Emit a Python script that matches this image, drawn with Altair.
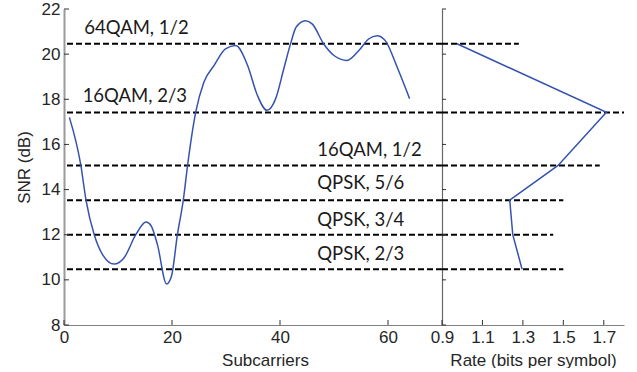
import altair as alt
import pandas as pd

# ---- data ----
sub_idx = [1, 3.1, 4.1, 5.6, 7.2, 9.3, 11.1, 13.3, 15.2, 16.1, 17.3, 19.0, 19.9,
           21.0, 22.1, 22.9, 24.4, 25.9, 27.8, 29.9, 31.8, 34.0, 35.8, 37.6, 39.2,
           40.7, 42.0, 43.0, 44.7, 46.0, 48.1, 50.0, 52.4, 54.6, 56.4, 58.0, 59.5,
           61.7, 64.0]
sub_snr = [17.2, 15.1, 13.5, 12.0, 11.1, 10.7, 10.97, 12.0, 12.56, 12.41, 11.56,
           9.82, 10.16, 12.0, 13.55, 15.1, 17.44, 18.76, 19.5, 20.23, 20.38, 19.5,
           18.18, 17.51, 18.03, 19.35, 20.5, 21.2, 21.48, 21.33, 20.45, 19.94,
           19.72, 20.16, 20.67, 20.82, 20.6, 19.42, 18.03]

mcs_labels = ["64QAM, 1/2", "16QAM, 2/3", "16QAM, 1/2", "QPSK, 5/6", "QPSK, 3/4", "QPSK, 2/3"]
mcs_snr = [20.46, 17.42, 15.07, 13.53, 12.0, 10.47]
mcs_rate = [0.974, 1.713, 1.474, 1.235, 1.25, 1.296]
mcs_line_start = [0.9, 0.9, 0.9, 0.9, 0.9, 0.9]
mcs_line_end = [1.28, 1.80, 1.68, 1.50, 1.45, 1.50]
label_x = [3.75, 3.45, 46.9, 46.9, 46.9, 46.9]
label_y = [21.15, 18.15, 15.77, 14.28, 12.66, 11.15]

y_ticks = [8, 10, 12, 14, 16, 18, 20, 22]
sub_ticks = [0, 20, 40, 60]
rate_ticks = [0.9, 1.1, 1.3, 1.5, 1.7]

BLUE = "#3553ae"
W1, W2, H = 378, 182, 316

df_curve = pd.DataFrame({"sub": sub_idx, "snr": sub_snr})
df_thr = pd.DataFrame({"snr": mcs_snr, "rate": mcs_line_start, "end": mcs_line_end})
df_lab = pd.DataFrame({"sub": label_x, "snr": label_y, "label": mcs_labels})
df_rate = pd.DataFrame({"rate": mcs_rate, "snr": mcs_snr})
df_yt = pd.DataFrame({"snr": y_ticks})
df_xt1 = pd.DataFrame({"sub": sub_ticks})
df_xt2 = pd.DataFrame({"rate": rate_ticks})

ys = alt.Scale(domain=[8, 22], nice=False, zero=False)
xs1 = alt.Scale(domain=[0, 70], nice=False, zero=False)
xs2 = alt.Scale(domain=[0.9, 1.8], nice=False, zero=False)

# ---- left panel ----
curve = alt.Chart(df_curve).mark_line(color=BLUE, strokeWidth=1.5, interpolate="monotone").encode(
    x=alt.X("sub:Q", scale=xs1, axis=alt.Axis(
        values=sub_ticks, format="d", title="Subcarriers", ticks=False, tickSize=0,
        labelFlush=False, labelPadding=4, titlePadding=7, titleX=201,
        domainColor="#808080", domainWidth=1.2)),
    y=alt.Y("snr:Q", scale=ys, axis=alt.Axis(
        values=y_ticks, format="d", title="SNR (dB)", ticks=False, tickSize=0,
        labelPadding=4, titlePadding=8, domainColor="#9a9a9a", domainWidth=2)),
)
thr1 = alt.Chart(df_thr).mark_rule(color="black", strokeWidth=2, strokeDash=[6, 3]).encode(
    y=alt.Y("snr:Q", scale=ys)
)
labels = alt.Chart(df_lab).mark_text(align="left", baseline="middle", font="Lato",
                                     fontSize=18.5, color="#1a1a1a").encode(
    x=alt.X("sub:Q", scale=xs1), y=alt.Y("snr:Q", scale=ys), text="label:N"
)
yt1 = alt.Chart(df_yt).mark_rule(color="#333333", strokeWidth=1).encode(
    y=alt.Y("snr:Q", scale=ys), x=alt.value(0), x2=alt.value(5)
)
xt1 = alt.Chart(df_xt1).mark_rule(color="#333333", strokeWidth=1).encode(
    x=alt.X("sub:Q", scale=xs1), y=alt.value(H), y2=alt.value(H - 5)
)
left = alt.layer(thr1, curve, labels, yt1, xt1).properties(width=W1, height=H)

# ---- right panel ----
rate_line = alt.Chart(df_rate).mark_line(color=BLUE, strokeWidth=1.5).encode(
    x=alt.X("rate:Q", scale=xs2, axis=alt.Axis(
        values=rate_ticks, format=".1f", title="Rate (bits per symbol)", ticks=False,
        tickSize=0, labelFlush=False, labelPadding=4, titlePadding=7,
        domainColor="#808080", domainWidth=1.2)),
    y=alt.Y("snr:Q", scale=ys, axis=alt.Axis(
        values=y_ticks, labels=False, ticks=False, tickSize=0, title=None,
        domainColor="#666666", domainWidth=1.2)),
    order=alt.Order("snr:Q"),
)
thr2 = alt.Chart(df_thr).mark_rule(color="black", strokeWidth=2, strokeDash=[6, 3]).encode(
    y=alt.Y("snr:Q", scale=ys), x=alt.X("rate:Q", scale=xs2), x2=alt.X2("end:Q")
)
yt2 = alt.Chart(df_yt).mark_rule(color="#333333", strokeWidth=1).encode(
    y=alt.Y("snr:Q", scale=ys), x=alt.value(0), x2=alt.value(4)
)
xt2 = alt.Chart(df_xt2).mark_rule(color="#333333", strokeWidth=1).encode(
    x=alt.X("rate:Q", scale=xs2), y=alt.value(H), y2=alt.value(H - 5)
)
right = alt.layer(thr2, rate_line, yt2, xt2).properties(width=W2, height=H)

chart = alt.hconcat(left, right, spacing=0, bounds="flush").configure_view(
    stroke=None
).configure_axis(
    labelFont="Liberation Sans", titleFont="Liberation Sans", labelFontSize=17,
    titleFontSize=17, labelColor="#262626", titleColor="#262626",
    titleFontWeight="normal", grid=False
).properties(
    padding={"left": 15, "top": 0, "right": 0, "bottom": 0}
)

chart.save("out.html", embed_options={"renderer": "svg", "actions": False})
